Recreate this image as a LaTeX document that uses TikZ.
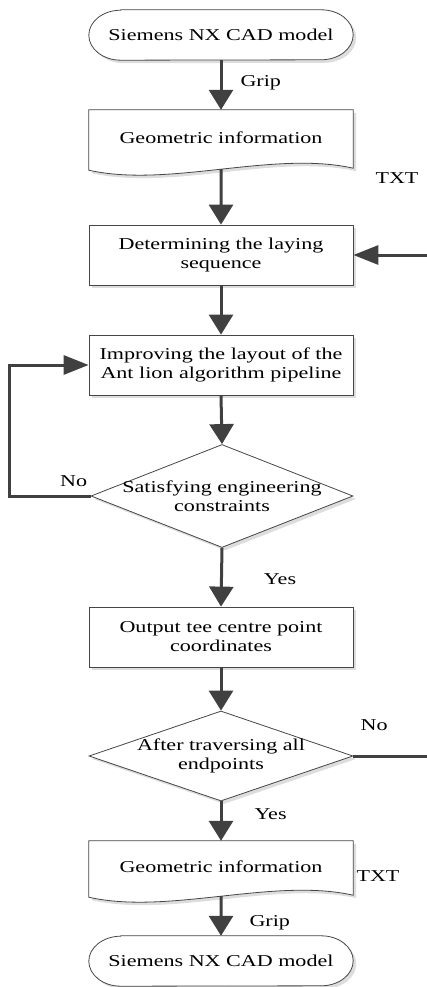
\documentclass[tikz,border=0pt]{standalone}
\usepackage{fontspec}
\setmainfont{Liberation Serif}[FakeStretch=1.33]
\usepackage{tikz}
\usetikzlibrary{arrows.meta, shapes.geometric, shadows, backgrounds}
\definecolor{flowgray}{RGB}{64,64,64}
\definecolor{linegray}{RGB}{70,70,70}
\definecolor{shadegray}{RGB}{221,221,221}
\tikzset{
  chart/.style = {draw=linegray, fill=white, line width=0.8pt,
    drop shadow={shadow xshift=3pt, shadow yshift=-3pt, fill=shadegray, opacity=1}},
  procbox/.style = {chart, rectangle, minimum width=264pt, minimum height=60pt, inner sep=0pt, align=center},
  decision/.style = {chart, diamond, minimum width=264pt, inner sep=0pt},
  textonly/.style = {rectangle, minimum width=264pt, inner sep=0pt, align=center},
  flow/.style = {draw=flowgray, line width=3pt, -{Triangle[width=24pt, length=20pt]}},
  sideflow/.style = {draw=flowgray, line width=3pt, -{Triangle[width=19pt, length=25pt]}},
  tag/.style = {inner sep=0pt},
}

\begin{document}
\begin{tikzpicture}[x=1pt, y=1pt, font=\fontsize{16.6}{19}\selectfont]
\useasboundingbox (0,0) rectangle (427,-987);
\clip (0,0) rectangle (427,-987);
% shapes
\node[textonly, minimum height=50pt] (t1) at (221,-35) {Siemens NX CAD model};
\node[textonly, minimum height=56pt] (d1) at (221,-138) {Geometric information};
\node[procbox] (b1) at (221,-255) {Determining the laying\\sequence};
\node[procbox] (b2) at (221,-365) {Improving the layout of the\\Ant lion algorithm pipeline};
\node[decision, minimum width=262pt, minimum height=103pt,
  label={[name=dm1txt, align=center]center:Satisfying engineering\\constraints}] (dm1) at (222,-496) {};
\node[procbox] (b3) at (221,-637) {Output tee centre point\\coordinates};
\node[decision, minimum height=90pt,
  label={[name=dm2txt, align=center]center:After traversing all\\endpoints}] (dm2) at (221,-756) {};
\node[textonly, minimum height=52pt] (d2) at (221,-867) {Geometric information};
\node[textonly, minimum height=50pt] (t2) at (221,-961) {Siemens NX CAD model};
\node[tag] (txt1) at (397,-178) {TXT};
\node[tag] (txt2) at (378,-876) {TXT};

% outlines behind the text
\begin{scope}[on background layer]
\foreach \t in {t1,t2}{
\draw[chart] ([xshift=32pt]\t.north west) -- ([xshift=-32pt]\t.north east)
  arc[start angle=90, end angle=-90, x radius=32pt, y radius=25pt]
  -- ([xshift=32pt]\t.south west)
  arc[start angle=270, end angle=90, x radius=32pt, y radius=25pt] -- cycle;
}
\foreach \d in {d1,d2}{
\draw[chart] ([yshift=-4pt]\d.south west) -- (\d.north west) -- (\d.north east)
  -- ([yshift=-2pt]\d.south east) .. controls +(-80,18) and +(80,-18) ..
  coordinate[pos=.5] (\d-wave) ([yshift=-4pt]\d.south west) -- cycle;
}
\end{scope}

% connectors
\draw[flow] (t1.south) -- node[tag, right=18pt, pos=.46] (grip1) {Grip} (d1.north);
\draw[flow] (d1-wave) -- (b1.north);
\draw[flow] (b1.south) -- (b2.north);
\draw[flow] (b2.south) -- (dm1.north);
\draw[sideflow] (dm1.west) -- node[tag, above=8pt, pos=.21] (no1) {No} ++(-81,0) |- (b2.west);
\draw[flow] (dm1.south) -- node[tag, right=41pt, pos=.53] (yes1) {Yes} (b3.north);
\draw[flow] (b3.south) -- (dm2.north);
\draw[sideflow] (dm2.east) -- node[tag, above=24pt, pos=.26] (no2) {No} ++(80,0) |- (b1.east);
\draw[flow] (dm2.south) -- node[tag, right=32pt, pos=.33] (yes2) {Yes} (d2.north);
\draw[flow] (d2-wave) -- node[tag, right=27pt, pos=.66] (grip2) {Grip} (t2.north);
\end{tikzpicture}
\end{document}
